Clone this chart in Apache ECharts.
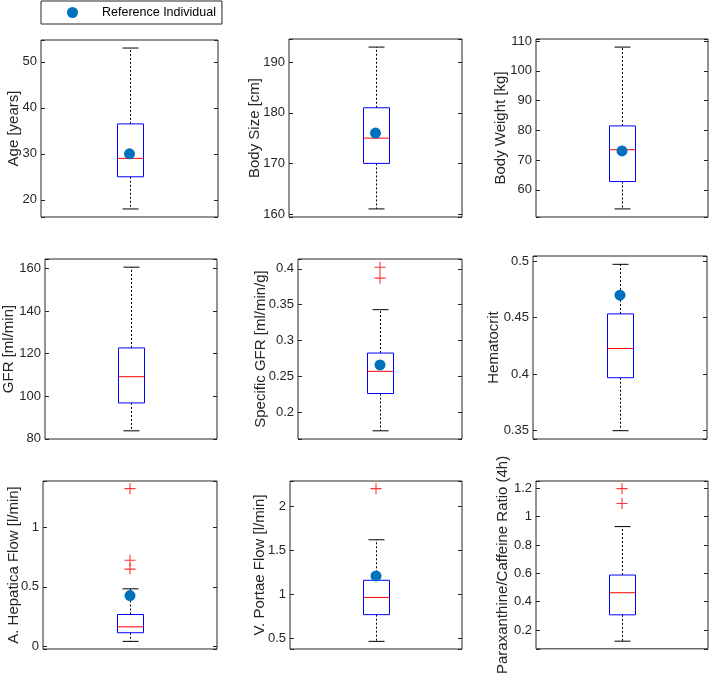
<!DOCTYPE html>
<html lang="en">
  <head>
    <meta charset="UTF-8" />
    <title>Reference individual boxplots</title>
    <script src="https://cdn.jsdelivr.net/npm/echarts@6/dist/echarts.min.js"></script>
    <style>
      html, body { margin: 0; padding: 0; background: #fff; }
      #main { width: 709px; height: 676px; }
    </style>
  </head>
  <body>
    <div id="main"></div>
    <script>
      // one entry per panel
      const axisTitles = [
        'Age [years]', 'Body Size [cm]', 'Body Weight [kg]',
        'GFR [ml/min]', 'Specific GFR [ml/min/g]', 'Hematocrit',
        'A. Hepatica Flow [l/min]', 'V. Portae Flow [l/min]', 'Paraxanthine/Caffeine Ratio (4h)'
      ];
      const whiskerLow = [18, 161, 53.6, 83.8, 0.174, 0.35, 0.039, 0.466, 0.121];
      const q1 = [25, 170, 62.8, 96.9, 0.226, 0.3968, 0.112, 0.77, 0.307];
      const median = [29, 175, 73.5, 109.2, 0.257, 0.4226, 0.162, 0.966, 0.463];
      const q3 = [36.5, 181, 81.5, 122.7, 0.2825, 0.4532, 0.266, 1.161, 0.588];
      const whiskerHigh = [53, 193, 108, 160.6, 0.343, 0.497, 0.483, 1.622, 0.93];
      const outliers = [[], [], [], [], [0.4023, 0.387], [], [1.33, 0.725, 0.65], [2.204], [1.198, 1.093]];
      const reference = [30, 176, 73.1, null, 0.266, 0.4697, 0.426, 1.21, null];
      const tickStep = [10, 10, 10, 20, 0.05, 0.05, 0.5, 0.5, 0.2];

      const layout = [
        { left: 41, top: 40, width: 177, height: 177, gap: 20 },
        { left: 289, top: 39, width: 173, height: 178, gap: 27 },
        { left: 536, top: 39, width: 172, height: 178, gap: 28 },
        { left: 43, top: 259, width: 174, height: 180, gap: 29 },
        { left: 298, top: 259, width: 164, height: 180, gap: 30 },
        { left: 533, top: 256, width: 174, height: 183, gap: 32 },
        { left: 43, top: 481, width: 174, height: 168, gap: 22 },
        { left: 290, top: 481, width: 172, height: 168, gap: 23 },
        { left: 536, top: 481, width: 172, height: 168, gap: 26 }
      ];

      const FONT = 'Liberation Sans, Arial, sans-serif';
      const TEXT = '#262626';
      const BOX_W = 26;
      const CAP_W = 16;

      function renderBox(params, api) {
        const low = api.coord([1, api.value(1)]);
        const b1 = api.coord([1, api.value(2)]);
        const med = api.coord([1, api.value(3)]);
        const b3 = api.coord([1, api.value(4)]);
        const high = api.coord([1, api.value(5)]);
        const cx = Math.round(low[0]) + 0.5;
        const dash = { stroke: '#000', lineWidth: 1, lineDash: [2, 2] };
        const solid = { stroke: '#000', lineWidth: 1 };
        return {
          type: 'group',
          children: [
            { type: 'line', shape: { x1: cx, y1: b3[1], x2: cx, y2: high[1] }, style: dash },
            { type: 'line', shape: { x1: cx, y1: b1[1], x2: cx, y2: low[1] }, style: dash },
            { type: 'line', shape: { x1: cx - CAP_W / 2, y1: high[1], x2: cx + CAP_W / 2, y2: high[1] }, style: solid },
            { type: 'line', shape: { x1: cx - CAP_W / 2, y1: low[1], x2: cx + CAP_W / 2, y2: low[1] }, style: solid },
            {
              type: 'rect',
              shape: { x: cx - BOX_W / 2, y: b3[1], width: BOX_W, height: b1[1] - b3[1] },
              style: { fill: 'none', stroke: '#0000ff', lineWidth: 1 }
            },
            { type: 'line', shape: { x1: cx - BOX_W / 2, y1: med[1], x2: cx + BOX_W / 2, y2: med[1] }, style: { stroke: '#ff0000', lineWidth: 1 } }
          ]
        };
      }

      const grid = [], xAxis = [], yAxis = [], series = [];

      layout.forEach(function (g, i) {
        const all = [whiskerLow[i], whiskerHigh[i]].concat(outliers[i]);
        const lo = Math.min.apply(null, all);
        const hi = Math.max.apply(null, all);
        const pad = (hi - lo) * 0.05;
        const step = tickStep[i];

        grid.push({
          left: g.left, top: g.top, width: g.width, height: g.height,
          show: true, borderColor: TEXT, borderWidth: 1
        });
        xAxis.push({ gridIndex: i, type: 'value', min: 0.5, max: 1.5, show: false });

        const common = {
          gridIndex: i, type: 'value', min: lo - pad, max: hi + pad,
          minInterval: step, maxInterval: step,
          axisLine: { show: false },
          axisTick: { show: true, inside: true, length: 4, lineStyle: { color: TEXT } },
          splitLine: { show: false }
        };
        yAxis.push(Object.assign({}, common, {
          position: 'left',
          name: axisTitles[i],
          nameLocation: 'middle',
          nameGap: g.gap,
          nameMoveOverlap: false,
          nameTextStyle: { fontSize: 15, color: TEXT, fontFamily: FONT },
          axisLabel: {
            fontSize: 13, color: TEXT, fontFamily: FONT, margin: 4,
            formatter: function (v) {
              const k = v / step;
              if (Math.abs(k - Math.round(k)) > 1e-6) return '';
              return String(+v.toFixed(4));
            }
          }
        }));
        yAxis.push(Object.assign({}, common, { position: 'right', axisLabel: { show: false } }));

        series.push({
          type: 'custom',
          xAxisIndex: i, yAxisIndex: 2 * i,
          renderItem: renderBox,
          silent: true,
          data: [[1, whiskerLow[i], q1[i], median[i], q3[i], whiskerHigh[i]]],
          z: 2
        });
        if (outliers[i].length) {
          series.push({
            type: 'scatter',
            xAxisIndex: i, yAxisIndex: 2 * i,
            symbol: 'path://M4.5,0h1v10h-1z M0,4.5h10v1h-10z',
            symbolSize: 11,
            itemStyle: { color: '#ff0000' },
            silent: true,
            data: outliers[i].map(function (v) { return [1, v]; }),
            z: 3
          });
        }
        if (reference[i] != null) {
          series.push({
            name: 'Reference Individual',
            type: 'scatter',
            xAxisIndex: i, yAxisIndex: 2 * i,
            symbol: 'circle',
            symbolSize: 11,
            itemStyle: { color: '#0072bd', opacity: 1 },
            silent: true,
            data: [[1, reference[i]]],
            z: 4
          });
        }
      });

      const chart = echarts.init(document.getElementById('main'), null, { renderer: 'canvas' });
      chart.setOption({
        animation: false,
        backgroundColor: '#fff',
        legend: {
          data: ['Reference Individual'],
          left: 41, top: 1,
          padding: [5, 6, 5, 26],
          icon: 'circle',
          itemWidth: 11, itemHeight: 11,
          borderColor: TEXT, borderWidth: 1,
          selectedMode: false,
          textStyle: { fontSize: 12.5, color: '#000', fontFamily: FONT, padding: [0, 0, 0, 19] }
        },
        grid: grid,
        xAxis: xAxis,
        yAxis: yAxis,
        series: series
      });
    </script>
  </body>
</html>
